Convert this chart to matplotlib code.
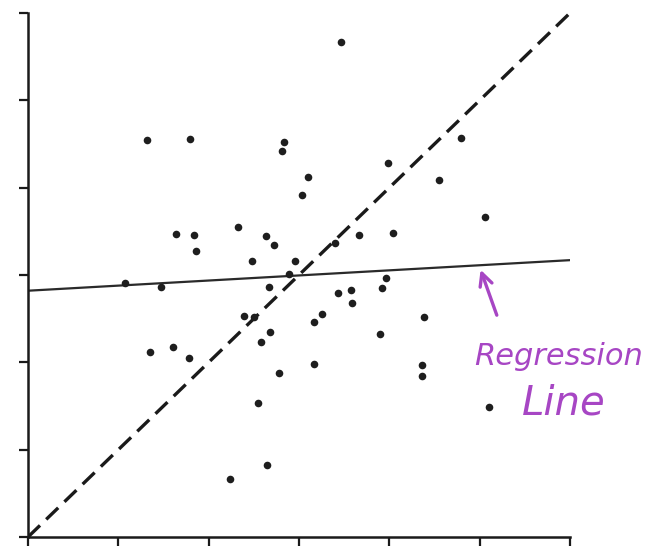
import matplotlib
matplotlib.use("Agg")
import matplotlib.pyplot as plt

# Scatter data (units 0..6 on both axes)
x_vals = [1.32, 1.79, 2.83, 2.81, 3.10, 3.03, 1.64, 1.84, 1.86, 2.32,
          2.63, 2.72, 2.48, 2.96, 2.89, 3.66, 3.40, 3.47, 4.79, 3.99,
          4.55, 5.06, 4.04, 3.96, 3.92, 3.43, 3.58, 3.59, 3.25, 3.17,
          4.38, 3.90, 3.17, 4.36, 4.36, 5.10, 1.07, 1.47, 2.67, 2.39,
          2.50, 2.68, 2.58, 1.35, 1.61, 1.78, 2.78, 2.55, 2.65, 2.24]
y_vals = [4.55, 4.56, 4.52, 4.42, 4.12, 3.92, 3.47, 3.46, 3.27, 3.55,
          3.45, 3.34, 3.16, 3.16, 3.01, 3.46, 3.37, 5.67, 4.57, 4.28,
          4.09, 3.66, 3.48, 2.97, 2.85, 2.79, 2.83, 2.68, 2.55, 2.46,
          2.52, 2.32, 1.98, 1.97, 1.84, 1.49, 2.91, 2.86, 2.86, 2.53,
          2.52, 2.35, 2.23, 2.12, 2.18, 2.05, 1.88, 1.53, 0.82, 0.66]

# Reference lines
identity_x = [0, 6]
identity_y = [0, 6]
regression_x = [0, 6]
regression_y = [2.82, 3.17]

# Annotation
arrow_tip = (5.00, 3.09)
arrow_base = (5.20, 2.51)
label_line1 = "Regression"
label_line2 = "Line"

purple = "#A746C4"

fig = plt.figure(figsize=(6.53, 5.6), dpi=100)
ax = fig.add_axes([28/653, 23/560, (570-28)/653, (537-13)/560])

ax.plot(identity_x, identity_y, color="#1a1a1a", lw=2.4, dashes=(5, 2.6),
        solid_capstyle="butt", zorder=2)
ax.plot(regression_x, regression_y, color="#2a2a2a", lw=1.6, zorder=2)
ax.scatter(x_vals, y_vals, s=30, color="#1e1e1e", zorder=3, linewidths=0)

ax.set_xlim(0, 6)
ax.set_ylim(0, 6)
ax.set_xticks(range(7))
ax.set_yticks(range(7))
ax.set_xticklabels([])
ax.set_yticklabels([])
ax.tick_params(direction="out", length=6.5, width=1.6, color="#1a1a1a")
for s in ["top", "right"]:
    ax.spines[s].set_visible(False)
for s in ["left", "bottom"]:
    ax.spines[s].set_linewidth(1.8)
    ax.spines[s].set_color("#1a1a1a")

ax.annotate("", xy=arrow_tip, xytext=arrow_base,
            arrowprops=dict(arrowstyle="->,head_length=0.9,head_width=0.45",
                            color=purple, lw=2.4))
ax.text(5.87, 2.07, label_line1, color=purple, fontsize=22, fontstyle="italic",
        ha="center", va="center", family="DejaVu Sans", clip_on=False)
ax.text(5.93, 1.54, label_line2, color=purple, fontsize=29, fontstyle="italic",
        ha="center", va="center", family="DejaVu Sans", clip_on=False)

fig.savefig("out.png", dpi=100, facecolor="white")
